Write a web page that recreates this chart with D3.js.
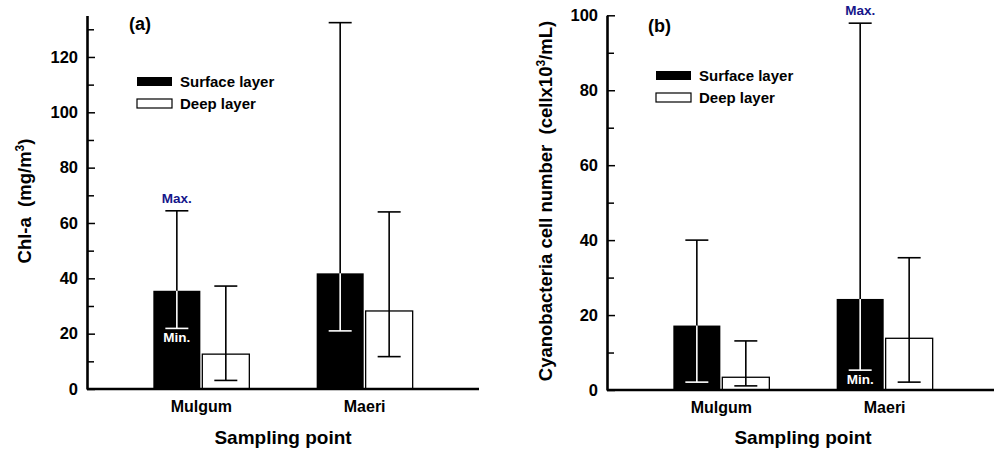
<!DOCTYPE html>
<html>
<head>
<meta charset="utf-8">
<script src="https://cdn.jsdelivr.net/npm/d3@7"></script>
<style>
  body { margin: 0; background: #fff; }
  svg { display: block; font-family: "Liberation Sans", Arial, sans-serif; font-weight: bold; }
</style>
</head>
<body>
<div id="chart"></div>
<script>
// sampling points and layers
const sites = ["Mulgum", "Maeri"];
const layers = ["Surface layer", "Deep layer"];

// (a) Chl-a, mg/m3
const chlSurfaceMean = [35.5, 41.8];
const chlSurfaceMin = [21.9, 21.0];
const chlSurfaceMax = [64.4, 132.4];
const chlDeepMean = [12.6, 28.2];
const chlDeepMin = [3.1, 11.7];
const chlDeepMax = [37.2, 64.0];
const chlMajorTicks = [0, 20, 40, 60, 80, 100, 120];
const chlMinorTicks = [10, 30, 50, 70, 90, 110, 130];

// (b) Cyanobacteria cell number, cells x10^3/mL
const cyanoSurfaceMean = [17.2, 24.3];
const cyanoSurfaceMin = [2.1, 5.3];
const cyanoSurfaceMax = [40.0, 97.9];
const cyanoDeepMean = [3.4, 13.8];
const cyanoDeepMin = [1.1, 2.1];
const cyanoDeepMax = [13.1, 35.3];
const cyanoMajorTicks = [0, 20, 40, 60, 80, 100];
const cyanoMinorTicks = [10, 30, 50, 70, 90];

const W = 994, H = 450;
const svg = d3.select("#chart").append("svg")
  .attr("width", W).attr("height", H)
  .attr("viewBox", `0 0 ${W} ${H}`);

function drawPanel(p) {
  const g = svg.append("g").attr("transform", `translate(${p.left},0)`);
  const axisW = 392;

  const x = d3.scalePoint().domain(sites).range([0, axisW]).padding(0.7);
  const xl = d3.scaleBand().domain(layers).range([-48, 48]).paddingInner(0.04);
  const y = d3.scaleLinear().domain([0, p.yMax]).range([p.yZero, p.yTop]);

  const rows = [];
  sites.forEach((s, i) => {
    rows.push({ site: s, layer: layers[0], mean: p.surfMean[i], min: p.surfMin[i], max: p.surfMax[i] });
    rows.push({ site: s, layer: layers[1], mean: p.deepMean[i], min: p.deepMin[i], max: p.deepMax[i] });
  });

  // bars
  g.selectAll("rect.bar").data(rows).enter().append("rect")
    .attr("class", "bar")
    .attr("x", d => x(d.site) + xl(d.layer))
    .attr("width", xl.bandwidth())
    .attr("y", d => y(d.mean))
    .attr("height", d => y(0) - y(d.mean))
    .attr("fill", d => d.layer === layers[0] ? "#000" : "#fff")
    .attr("stroke", "#000")
    .attr("stroke-width", d => d.layer === layers[0] ? 0 : 1.3);

  // min-max bars
  const cx = d => x(d.site) + xl(d.layer) + xl.bandwidth() / 2;
  const cap = 11.5;
  const eb = g.selectAll("g.err").data(rows).enter().append("g").attr("class", "err");
  eb.append("line")
    .attr("x1", cx).attr("x2", cx)
    .attr("y1", d => y(d.min)).attr("y2", d => y(d.max))
    .attr("stroke", "#000").attr("stroke-width", 1.6);
  eb.append("line")
    .attr("x1", d => cx(d) - cap).attr("x2", d => cx(d) + cap)
    .attr("y1", d => y(d.max)).attr("y2", d => y(d.max))
    .attr("stroke", "#000").attr("stroke-width", 1.6);
  eb.append("line")
    .attr("x1", d => cx(d) - cap).attr("x2", d => cx(d) + cap)
    .attr("y1", d => y(d.min)).attr("y2", d => y(d.min))
    .attr("stroke", d => (d.layer === layers[0] && d.min < d.mean) ? "#fff" : "#000")
    .attr("stroke-width", 1.6);
  // part inside the black bars is drawn white
  eb.filter(d => d.layer === layers[0]).append("line")
    .attr("x1", cx).attr("x2", cx)
    .attr("y1", d => y(d.min)).attr("y2", d => y(Math.min(d.mean, d.max)))
    .attr("stroke", "#fff").attr("stroke-width", 1.6);

  // Max. / Min. notes
  const note = rows.find(d => d.site === p.noteSite && d.layer === layers[0]);
  g.append("text")
    .attr("x", cx(note)).attr("y", y(note.max) - 8)
    .attr("text-anchor", "middle").attr("fill", "#16168a")
    .style("font-size", "13.5px").text("Max.");
  g.append("text")
    .attr("x", cx(note)).attr("y", y(note.min) + 13.5)
    .attr("text-anchor", "middle").attr("fill", "#fff")
    .style("font-size", "13.5px").text("Min.");

  // y axis (ticks inward)
  const yAxis = g.append("g")
    .call(d3.axisLeft(y).tickValues(p.major).tickSizeInner(-8).tickSizeOuter(0).tickPadding(9));
  yAxis.append("g")
    .call(d3.axisLeft(y).tickValues(p.minor).tickSizeInner(-7).tickSizeOuter(0).tickFormat(""))
    .select(".domain").remove();
  yAxis.selectAll(".tick line").attr("stroke", "#000").attr("stroke-width", 1.5);
  yAxis.select(".domain").attr("stroke", "#000").attr("stroke-width", 2.6);
  yAxis.selectAll(".tick text")
    .attr("fill", "#000")
    .style("font-size", "16.5px").style("font-family", "'Liberation Sans', Arial, sans-serif")
    .style("font-weight", "bold");

  // x axis line
  g.append("line")
    .attr("x1", 0).attr("x2", axisW)
    .attr("y1", y(0)).attr("y2", y(0))
    .attr("stroke", "#000").attr("stroke-width", 2.6);

  // category labels
  g.selectAll("text.cat").data(sites).enter().append("text")
    .attr("class", "cat")
    .attr("x", d => x(d)).attr("y", p.yZero + 23)
    .attr("text-anchor", "middle")
    .style("font-size", "16px").text(d => d);

  g.append("text")
    .attr("x", 196).attr("y", 444)
    .attr("text-anchor", "middle")
    .style("font-size", "19px").text("Sampling point");

  // panel label
  g.append("text")
    .attr("x", p.labelX).attr("y", p.labelY)
    .style("font-size", "18px").text(p.label);

  // legend
  const lg = g.append("g").attr("transform", `translate(${p.legX},${p.legY})`);
  layers.forEach((l, i) => {
    lg.append("rect")
      .attr("x", 0).attr("y", i * 22)
      .attr("width", 35).attr("height", 9)
      .attr("fill", i === 0 ? "#000" : "#fff")
      .attr("stroke", "#000").attr("stroke-width", i === 0 ? 0 : 1.2);
    lg.append("text")
      .attr("x", 43).attr("y", i * 22 + 10)
      .style("font-size", "15px").text(l);
  });

  // y title
  const t = svg.append("text")
    .attr("transform", `translate(${p.titleX},${p.titleY}) rotate(-90)`)
    .attr("text-anchor", "middle")
    .style("white-space", "pre")
    .style("font-size", "18.5px");
  t.append("tspan").text(p.titlePre);
  t.append("tspan").attr("dy", -7).style("font-size", "12px").text("3");
  t.append("tspan").attr("dy", 7).text(p.titlePost);
}

drawPanel({
  left: 87, yMax: 135, yZero: 389, yTop: 389 - 135 * 2.767,
  major: chlMajorTicks, minor: chlMinorTicks,
  surfMean: chlSurfaceMean, surfMin: chlSurfaceMin, surfMax: chlSurfaceMax,
  deepMean: chlDeepMean, deepMin: chlDeepMin, deepMax: chlDeepMax,
  noteSite: "Mulgum",
  label: "(a)", labelX: 42, labelY: 30,
  legX: 50, legY: 77,
  titleX: 31, titleY: 201,
  titlePre: "Chl-a  (mg/m", titlePost: ")"
});

drawPanel({
  left: 607, yMax: 100, yZero: 390, yTop: 15.3,
  major: cyanoMajorTicks, minor: cyanoMinorTicks,
  surfMean: cyanoSurfaceMean, surfMin: cyanoSurfaceMin, surfMax: cyanoSurfaceMax,
  deepMean: cyanoDeepMean, deepMin: cyanoDeepMin, deepMax: cyanoDeepMax,
  noteSite: "Maeri",
  label: "(b)", labelX: 41, labelY: 32,
  legX: 49, legY: 71,
  titleX: 552, titleY: 201,
  titlePre: "Cyanobacteria cell number  (cellx10", titlePost: "/mL)"
});
</script>
</body>
</html>
